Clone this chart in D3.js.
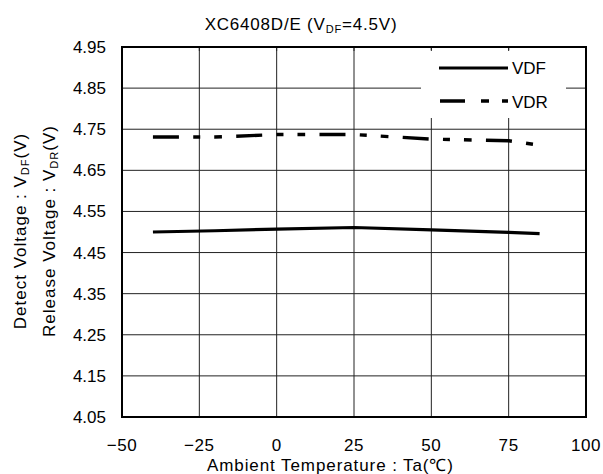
<!DOCTYPE html>
<html>
<head>
<meta charset="utf-8">
<script src="https://cdn.jsdelivr.net/npm/d3@7"></script>
<style>
  body { margin: 0; background: #fff; }
  text { font-family: "Liberation Sans", Arial, sans-serif; fill: #000; }
</style>
</head>
<body>
<svg width="603" height="474"></svg>
<script>
// temperatures (deg C) and measured voltages
const temps = [-40, -20, 0, 25, 50, 75, 85];
const vdf = [4.500, 4.503, 4.507, 4.511, 4.505, 4.499, 4.496];
const vdr = [4.731, 4.731, 4.737, 4.737, 4.726, 4.722, 4.711];

const xTicks = [-50, -25, 0, 25, 50, 75, 100];
const yTicks = [4.05, 4.15, 4.25, 4.35, 4.45, 4.55, 4.65, 4.75, 4.85, 4.95];

const seriesNames = ["VDF", "VDR"];

let margin = {left: 122, right: 17, top: 47, bottom: 57};
let width = 603, height = 474;

let svg = d3.select("svg");

let x = d3.scaleLinear().domain([-50, 100]).range([margin.left, width - margin.right]);
let y = d3.scaleLinear().domain([4.05, 4.95]).range([height - margin.bottom, margin.top]);

// grid
svg.append("g")
    .selectAll("line")
    .data(xTicks.slice(1, -1))
    .enter().append("line")
    .attr("x1", d => x(d)).attr("x2", d => x(d))
    .attr("y1", y(4.05)).attr("y2", y(4.95))
    .attr("stroke", "#222").attr("stroke-width", 1);

svg.append("g")
    .selectAll("line")
    .data(yTicks.slice(1, -1))
    .enter().append("line")
    .attr("x1", x(-50)).attr("x2", x(100))
    .attr("y1", d => y(d)).attr("y2", d => y(d))
    .attr("stroke", "#222").attr("stroke-width", 1);

// legend background hides the grid behind it
svg.append("rect")
    .attr("x", 421).attr("y", 50)
    .attr("width", 145).attr("height", 68)
    .attr("fill", "#fff");

// small inner ticks on top edge
svg.append("g")
    .selectAll("line")
    .data(xTicks.slice(1, -1))
    .enter().append("line")
    .attr("x1", d => x(d)).attr("x2", d => x(d))
    .attr("y1", y(4.95)).attr("y2", y(4.95) + 4)
    .attr("stroke", "#222");

// frame
svg.append("rect")
    .attr("x", x(-50)).attr("y", y(4.95))
    .attr("width", x(100) - x(-50)).attr("height", y(4.05) - y(4.95))
    .attr("fill", "none").attr("stroke", "#000").attr("stroke-width", 2);

// tick labels
svg.append("g")
    .selectAll("text")
    .data(yTicks)
    .enter().append("text")
    .attr("x", 106).attr("y", d => y(d) + 6)
    .attr("text-anchor", "end")
    .style("font-size", "17px")
    .text(d => d.toFixed(2));

svg.append("g")
    .selectAll("text")
    .data(xTicks)
    .enter().append("text")
    .attr("x", d => x(d)).attr("y", 451)
    .attr("text-anchor", "middle")
    .style("font-size", "17px")
    .style("letter-spacing", "0.6px")
    .text(d => d < 0 ? "\u2212" + Math.abs(d) : d);

// lines
let line = d3.line()
    .x((d, i) => x(temps[i]))
    .y(d => y(d));

svg.append("path")
    .datum(vdf)
    .attr("d", line)
    .attr("fill", "none").attr("stroke", "#000")
    .attr("stroke-width", 3.2);

svg.append("path")
    .datum(vdr)
    .attr("d", line)
    .attr("fill", "none").attr("stroke", "#000")
    .attr("stroke-width", 3.4)
    .attr("stroke-dasharray", "26,14.3,7,14,7.7,14.3");

// legend
let legend = svg.append("g");
legend.append("line")
    .attr("x1", 439).attr("x2", 508).attr("y1", 68).attr("y2", 68)
    .attr("stroke", "#000").attr("stroke-width", 3.2);
legend.append("line")
    .attr("x1", 440).attr("x2", 508).attr("y1", 101).attr("y2", 101)
    .attr("stroke", "#000").attr("stroke-width", 3.4)
    .attr("stroke-dasharray", "25,16,8,13,7,20");
legend.selectAll("text")
    .data(seriesNames)
    .enter().append("text")
    .attr("x", 512).attr("y", (d, i) => 74 + i * 34)
    .style("font-size", "17px")
    .text(d => d);

// title
let title = svg.append("text")
    .attr("x", 301).attr("y", 30)
    .attr("text-anchor", "middle")
    .style("font-size", "17px")
    .style("letter-spacing", "0.8px");
title.append("tspan").text("XC6408D/E (V");
title.append("tspan").attr("dy", 3).style("font-size", "11px").text("DF");
title.append("tspan").attr("dy", -3).text("=4.5V)");

// axis titles
svg.append("text")
    .attr("x", 330).attr("y", 471)
    .attr("text-anchor", "middle")
    .attr("textLength", 246)
    .attr("lengthAdjust", "spacing")
    .style("font-size", "17px")
    .text("Ambient Temperature : Ta(\u2103)");

function yLabel(xPos, main, sub) {
    let t = svg.append("text")
        .attr("transform", `translate(${xPos},231) rotate(-90)`)
        .attr("text-anchor", "middle")
        .style("font-size", "17px")
        .style("letter-spacing", "1px");
    t.append("tspan").text(main + " : V");
    t.append("tspan").attr("dy", 3).style("font-size", "11px").text(sub);
    t.append("tspan").attr("dy", -3).text("(V)");
}
yLabel(26, "Detect Voltage", "DF");
yLabel(55, "Release Voltage", "DR");
</script>
</body>
</html>
